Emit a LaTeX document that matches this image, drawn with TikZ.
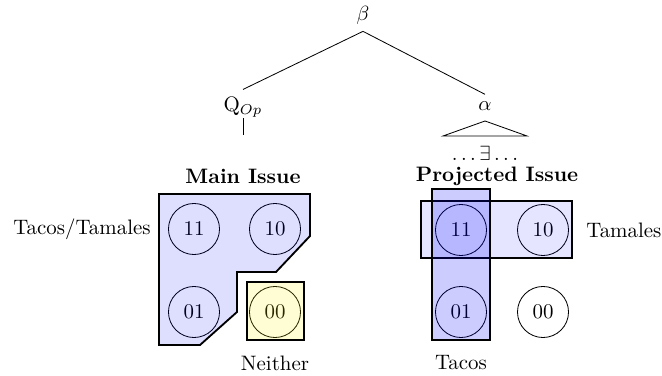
\documentclass[tikz,border=0pt]{standalone}
\begin{document}
\begin{tikzpicture}[x=0.4878pt,y=-0.4878pt,
  every node/.style={font=\fontsize{10.2}{12.2}\selectfont},
  world/.style={circle,draw,line width=0.4pt,minimum size=24.9pt,inner sep=0pt},
  issue/.style={draw=black,line width=0.9pt,fill=blue,fill opacity=0.13,draw opacity=1},
  neither/.style={draw=black,line width=0.9pt,fill=yellow,fill opacity=0.17,draw opacity=1},
  tacos/.style={draw=black,line width=0.9pt,fill=blue,fill opacity=0.2,draw opacity=1},
  tamales/.style={draw=black,line width=0.9pt,fill=blue,fill opacity=0.1,draw opacity=1},
  lab/.style={inner sep=0pt}]
\useasboundingbox (0,0) rectangle (662,376);
% tree
\node (beta) at (363,15) {$\beta$};
\node (q) at (243,107) {Q$_{Op}$};
\node (al) at (485,106) {$\alpha$};
\draw (beta.south) -- (q.north);
\draw (beta.south) -- (al.north);
\coordinate (qbot) at (243,135);
\draw[shorten <=-3pt] (q.south) -- (qbot);
\coordinate (tap) at (485,121);
\coordinate (tl) at (443,136);
\coordinate (tr) at (527,136);
\draw (tap) -- (tl) -- (tr) -- cycle;
\node (ex) at (485,153) {$\ldots\exists\ldots$};
% titles
\node (mi) at (243,176) {\textbf{Main Issue}};
\node (pi) at (497,176) {\textbf{Projected Issue}};
% left worlds
\node[world] (l11) at (194,229) {11};
\node[world] (l10) at (275,229) {10};
\node[world] (l01) at (194,312) {01};
\node[world] (l00) at (275,312) {00};
\draw[issue] (159,194) -- (310,194) -- (310,236) -- (276,272) -- (237,272) -- (237,312) -- (200,345) -- (159,345) -- cycle;
\draw[neither] (247,282) rectangle (304,340);
\node[lab,anchor=east] (tt) at (151,229) {Tacos/Tamales};
\node (nei) at (275,363) {Neither};
% right worlds
\node[world] (r11) at (461,230) {11};
\node[world] (r10) at (543,230) {10};
\node[world] (r01) at (461,312) {01};
\node[world] (r00) at (543,312) {00};
\draw[tamales] (421,201) rectangle (572,258);
\draw[tacos] (432,189) rectangle (490,340);
\node[lab,anchor=west] (tam) at (586,230) {Tamales};
\node (tac) at (461,363) {Tacos};
\end{tikzpicture}
\end{document}
